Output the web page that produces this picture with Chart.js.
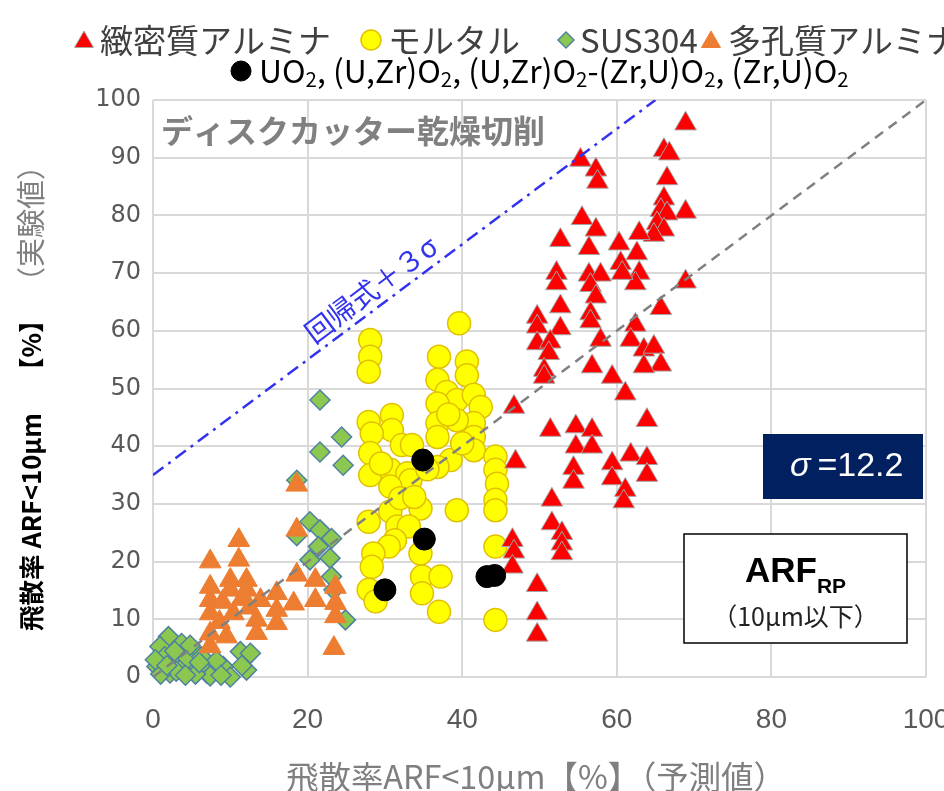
<!DOCTYPE html>
<html>
<head>
<meta charset="utf-8">
<script src="https://cdn.jsdelivr.net/npm/chart.js@4.4.0/dist/chart.umd.min.js"></script>
<style>
html, body { margin: 0; padding: 0; background: #fff; overflow: hidden; }
#wrap { width: 944px; height: 791px; overflow: hidden; }
canvas { display: block; }
</style>
</head>
<body>
<div id="wrap"><canvas id="arfChart" width="980" height="791"></canvas></div>
<script>
// 飛散率 ARF<10μm : 予測値 (x) と 実験値 (y)
const denseAlumina = [
  [68.9,95.9],[66.1,91.3],[66.8,90.7],[66.5,86.4],[66.1,82.9],[68.9,80.6],[65.7,80.9],[66.5,80.3],
  [65.2,78.6],[66.1,77.5],[64.8,76.6],[62.9,76.9],[62.6,73.4],[62.9,70.0],[62.4,68.2],[60.3,75.1],
  [60.5,71.7],[60.7,70.0],[68.9,68.5],[65.7,63.9],[62.4,61.0],[61.8,58.4],[63.5,56.7],[64.8,57.2],
  [65.7,54.1],[63.5,53.8],[55.3,89.6],[57.3,87.9],[57.5,85.8],[55.5,79.5],[57.3,77.5],[52.7,75.7],
  [56.4,74.3],[52.2,70.0],[52.2,68.2],[56.4,69.7],[57.9,69.7],[56.6,67.9],[57.3,65.9],[52.7,64.2],
  [56.6,63.0],[49.7,62.4],[49.7,60.7],[52.7,60.4],[56.6,61.6],[49.7,57.8],[51.4,58.1],[51.2,56.1],
  [57.9,58.4],[50.6,53.2],[50.6,52.0],[56.8,53.8],[59.4,52.0],[61.1,49.1],[63.9,44.5],[46.7,46.8],
  [51.4,42.8],[54.7,43.4],[56.8,42.8],[54.7,39.9],[56.8,39.9],[46.9,37.3],[61.8,38.5],[63.9,37.9],
  [59.4,37.0],[59.4,34.4],[54.4,36.2],[54.4,33.8],[63.9,35.0],[61.1,32.4],[60.9,30.4],[51.6,30.7],
  [51.6,26.6],[52.9,24.9],[52.9,23.1],[52.9,21.4],[46.5,23.7],[46.7,21.7],[46.5,19.1],[49.7,15.9],
  [49.7,11.0],[49.7,7.3]
];
const mortar = [
  [39.6,61.3],[28.1,58.4],[28.1,55.5],[27.9,52.9],[37.0,55.5],[40.6,54.7],[40.6,52.3],[36.8,51.5],
  [38.0,49.4],[39.3,48.0],[41.5,48.9],[42.4,46.8],[36.8,47.4],[36.8,44.0],[41.5,44.0],[39.3,44.5],
  [36.8,41.6],[41.5,41.6],[41.5,39.3],[38.5,37.6],[36.8,36.4],[30.9,45.4],[30.9,42.8],[27.9,44.2],
  [28.3,42.2],[28.1,38.8],[28.1,35.0],[32.2,40.2],[33.5,40.2],[30.7,35.9],[32.9,35.3],[33.3,34.1],
  [30.7,33.0],[30.7,28.7],[27.9,26.9],[34.6,29.2],[39.3,28.9],[44.3,38.2],[44.3,35.9],[44.5,33.5],
  [44.3,30.7],[44.3,28.9],[44.3,22.6],[44.3,9.9],[31.6,26.1],[33.1,26.1],[31.3,23.7],[30.5,22.6],
  [28.5,21.4],[28.3,19.1],[34.6,21.4],[34.8,17.4],[34.8,14.5],[37.2,17.4],[37.0,11.3],[27.9,15.1],
  [28.8,13.1],[29.5,37.0],[32.0,31.0],[35.5,36.0],[33.8,31.2],[40.0,40.5],[38.2,45.5]
];
const sus304 = [
  [21.6,48.0],[24.4,41.6],[21.6,39.0],[24.6,36.7],[18.6,34.1],[20.3,26.9],[21.6,25.5],[23.1,24.0],
  [21.4,22.6],[22.9,20.6],[20.3,20.3],[23.1,17.4],[23.4,15.1],[24.9,9.9],[18.6,24.5],
  [2.0,7.0],[3.7,5.8],[0.9,5.3],[5.2,4.7],[2.6,2.9],[0.5,1.8],[3.9,1.8],[5.7,1.8],[7.0,0.6],
  [9.1,1.8],[10.0,0.0],[11.3,4.4],[12.6,4.1],[12.1,1.2],[7.4,0.2],[2.2,0.7],[1.5,3.5],[4.5,3.2],
  [6.3,3.5],[3.0,1.0],[8.2,2.8],[5.5,0.5],[1.0,0.5],[4.2,0.3],[6.0,2.5],[2.8,4.5],[0.3,3.0],
  [8.8,0.3],[11.5,2.0],[1.8,2.0],[4.8,5.5]
];
const porousAlumina = [
  [18.6,33.3],[18.6,25.5],[18.6,17.7],[11.1,23.7],[11.1,20.3],[7.4,20.0],[7.4,15.6],[7.4,13.3],
  [7.4,11.0],[7.4,7.5],[7.4,5.3],[10.0,16.8],[12.1,16.8],[10.0,15.1],[12.1,15.1],[10.4,11.0],
  [9.5,7.0],[13.9,13.3],[16.0,14.5],[16.0,11.6],[16.0,9.3],[18.2,12.7],[13.4,9.9],[13.4,7.6],
  [21.0,16.8],[21.0,13.3],[23.6,15.6],[23.6,12.8],[23.6,10.5],[23.4,5.0],[11.5,13.5],[9.0,13.0],
  [12.5,12.0],[8.6,9.5]
];
const uo2Fuel = [[34.9,37.6],[35.1,23.9],[30.0,15.1],[43.2,17.4],[44.2,17.6]];
const oneToOne = [[0,0],[100,100]];
const regression3Sigma = [[0,35],[65,100]];
const sigmaValue = 12.2;

const JP = '"Noto Sans CJK JP", "Noto Sans", sans-serif';
const toXY = arr => arr.map(p => ({ x: p[0], y: p[1] }));

// 文字を指定幅に合わせるフォントサイズ
function fitSize(ctx, text, weight, family, width, base) {
  ctx.font = weight + ' ' + base + 'px ' + family;
  return base * width / ctx.measureText(text).width;
}

function marker(ctx, style, r, x, y, fill, stroke, bw) {
  ctx.save();
  ctx.fillStyle = fill;
  ctx.strokeStyle = stroke;
  ctx.lineWidth = bw;
  Chart.helpers.drawPoint(ctx, { pointStyle: style, radius: r, borderWidth: bw, rotation: 0 }, x, y);
  ctx.restore();
}

const overlay = {
  id: 'overlay',
  afterDraw(chart) {
    const ctx = chart.ctx;
    const xs = chart.scales.x, ys = chart.scales.y;
    ctx.save();
    ctx.textBaseline = 'middle';

    // 凡例 1行目
    const row1 = 40;
    ctx.font = '33px ' + JP;
    ctx.fillStyle = '#404040';
    marker(ctx, 'triangle', 11, 84, row1 + 2, '#ff0000', '#a5a5a5', 1);
    ctx.fillText('緻密質アルミナ', 100, row1);
    marker(ctx, 'circle', 10, 371, row1, '#ffff00', '#e0c000', 1.5);
    ctx.fillText('モルタル', 388, row1);
    marker(ctx, 'rectRot', 8, 566, row1, '#8cc850', '#4f81a0', 1.5);
    ctx.fillText('SUS304', 580, row1);
    marker(ctx, 'triangle', 11, 711, row1 + 2, '#ed7d31', '#ed7d31', 1);
    ctx.fillText('多孔質アルミナ', 728, row1);

    // 凡例 2行目 (下付き文字)
    const row2 = 71;
    marker(ctx, 'circle', 10, 241, row2, '#000', '#000', 1);
    const parts = ['UO', '2', ', (U,Zr)O', '2', ', (U,Zr)O', '2', '-(Zr,U)O', '2', ', (Zr,U)O', '2'];
    const big = 28, small = 18;
    let w = 0;
    parts.forEach((p, i) => { ctx.font = (i % 2 ? small : big) + 'px ' + JP; w += ctx.measureText(p).width; });
    const k = 590 / w;
    let px = 259;
    ctx.fillStyle = '#000';
    parts.forEach((p, i) => {
      const sz = (i % 2 ? small : big) * k;
      ctx.font = sz + 'px ' + JP;
      ctx.fillText(p, px, i % 2 ? row2 + 8 : row2);
      px += ctx.measureText(p).width;
    });

    // x軸タイトル
    const xt = '飛散率ARF<10μm【%】（予測値）';
    ctx.font = fitSize(ctx, xt, '', JP, 500, 29) + 'px ' + JP;
    ctx.fillStyle = '#7f7f7f';
    ctx.textAlign = 'center';
    ctx.fillText(xt, 536, 777);
    ctx.textAlign = 'left';

    // y軸タイトル (回転)
    ctx.save();
    ctx.translate(31, 631);
    ctx.rotate(-Math.PI / 2);
    const y1 = '飛散率 ARF<10μm';
    const s1 = fitSize(ctx, y1, 'bold', JP, 218, 26);
    ctx.font = 'bold ' + s1 + 'px ' + JP;
    ctx.fillStyle = '#000';
    ctx.fillText(y1, 0, 0);
    ctx.fillText('【%】', 248, 0);
    ctx.font = '29px ' + JP;
    ctx.fillStyle = '#7f7f7f';
    ctx.fillText('（実験値）', 335, 0);
    ctx.restore();

    // 条件ラベル
    ctx.font = 'bold 32px ' + JP;
    ctx.fillStyle = '#808080';
    ctx.fillText('ディスクカッター乾燥切削', 161, 131);

    // 回帰式＋3σ ラベル
    const p0 = { x: xs.getPixelForValue(regression3Sigma[0][0]), y: ys.getPixelForValue(regression3Sigma[0][1]) };
    const p1 = { x: xs.getPixelForValue(regression3Sigma[1][0]), y: ys.getPixelForValue(regression3Sigma[1][1]) };
    ctx.save();
    ctx.translate(xs.getPixelForValue(28.2), ys.getPixelForValue(67.2));
    ctx.rotate(Math.atan2(p1.y - p0.y, p1.x - p0.x));
    ctx.font = '28px ' + JP;
    ctx.fillStyle = '#3333ee';
    ctx.textAlign = 'center';
    ctx.fillText('回帰式＋３σ', 0, 0);
    ctx.restore();

    // σ ボックス
    ctx.fillStyle = '#002060';
    ctx.fillRect(763, 434, 160, 65);
    ctx.fillStyle = '#fff';
    ctx.font = 'italic 34px "Liberation Sans", sans-serif';
    ctx.fillText('σ', 790, 467);
    ctx.font = '34px "Liberation Sans", sans-serif';
    ctx.fillText(' =' + sigmaValue, 808, 467);

    // ARF_RP ボックス
    ctx.fillStyle = '#fff';
    ctx.fillRect(684, 534, 223, 109);
    ctx.strokeStyle = '#000';
    ctx.lineWidth = 1.5;
    ctx.strokeRect(684, 534, 223, 109);
    ctx.fillStyle = '#000';
    ctx.textBaseline = 'alphabetic';
    ctx.font = 'bold 35px "Liberation Sans", sans-serif';
    const wA = ctx.measureText('ARF').width;
    ctx.font = 'bold 21px "Liberation Sans", sans-serif';
    const wR = ctx.measureText('RP').width;
    const sx = 795.5 - (wA + wR) / 2;
    ctx.font = 'bold 35px "Liberation Sans", sans-serif';
    ctx.fillText('ARF', sx, 582);
    ctx.font = 'bold 21px "Liberation Sans", sans-serif';
    ctx.fillText('RP', sx + wA, 593);
    ctx.textBaseline = 'middle';
    ctx.textAlign = 'center';
    ctx.font = '25px ' + JP;
    ctx.fillStyle = '#222';
    ctx.fillText('（10μm以下）', 795.5, 616);
    ctx.restore();
  }
};

new Chart(document.getElementById('arfChart'), {
  type: 'scatter',
  data: {
    datasets: [
      { label: '回帰式＋3σ', data: toXY(regression3Sigma), showLine: true, borderColor: '#3333ee',
        borderWidth: 2.5, borderDash: [13, 6, 3, 6], pointRadius: 0, order: 0 },
      { label: '1:1', data: toXY(oneToOne), showLine: true, borderColor: '#808080',
        borderWidth: 2.5, borderDash: [10, 7], pointRadius: 0, order: 0 },
      { label: 'UO2, (U,Zr)O2, (U,Zr)O2-(Zr,U)O2, (Zr,U)O2', data: toXY(uo2Fuel), pointStyle: 'circle',
        pointRadius: 11, backgroundColor: '#000', borderColor: '#000', borderWidth: 1, order: 1, clip: false },
      { label: '緻密質アルミナ', data: toXY(denseAlumina), pointStyle: 'triangle', pointRadius: 12.5,
        backgroundColor: '#ff0000', borderColor: '#a5a5a5', borderWidth: 1, order: 2, clip: false },
      { label: 'モルタル', data: toXY(mortar), pointStyle: 'circle', pointRadius: 11.5,
        backgroundColor: '#ffff00', borderColor: '#e0c000', borderWidth: 1.5, order: 3, clip: false },
      { label: '多孔質アルミナ', data: toXY(porousAlumina), pointStyle: 'triangle', pointRadius: 12.5,
        backgroundColor: '#ed7d31', borderColor: '#ed7d31', borderWidth: 1, order: 4, clip: false },
      { label: 'SUS304', data: toXY(sus304), pointStyle: 'rectRot', pointRadius: 10,
        backgroundColor: '#8cc850', borderColor: '#4f81a0', borderWidth: 1.5, order: 5, clip: false }
    ]
  },
  options: {
    responsive: false,
    animation: false,
    layout: { padding: { left: 0, top: 100, right: 54, bottom: 0 } },
    plugins: { legend: { display: false }, tooltip: { enabled: false } },
    scales: {
      x: {
        type: 'linear', min: 0, max: 100,
        ticks: { stepSize: 20, color: '#595959', padding: 26,
          font: { family: '"Liberation Sans Narrow", "Liberation Sans", sans-serif', size: 28 } },
        grid: { color: '#d9d9d9', lineWidth: 2, drawTicks: false },
        border: { display: false },
        afterFit(s) { s.height = 114; }
      },
      y: {
        min: 0, max: 100,
        ticks: { stepSize: 10, color: '#595959', padding: 12,
          font: { family: '"DejaVu Sans", sans-serif', size: 24 } },
        grid: { color: '#d9d9d9', lineWidth: 2, drawTicks: false },
        border: { display: false },
        afterFit(s) { s.width = 153; }
      }
    }
  },
  plugins: [overlay]
});
</script>
</body>
</html>
